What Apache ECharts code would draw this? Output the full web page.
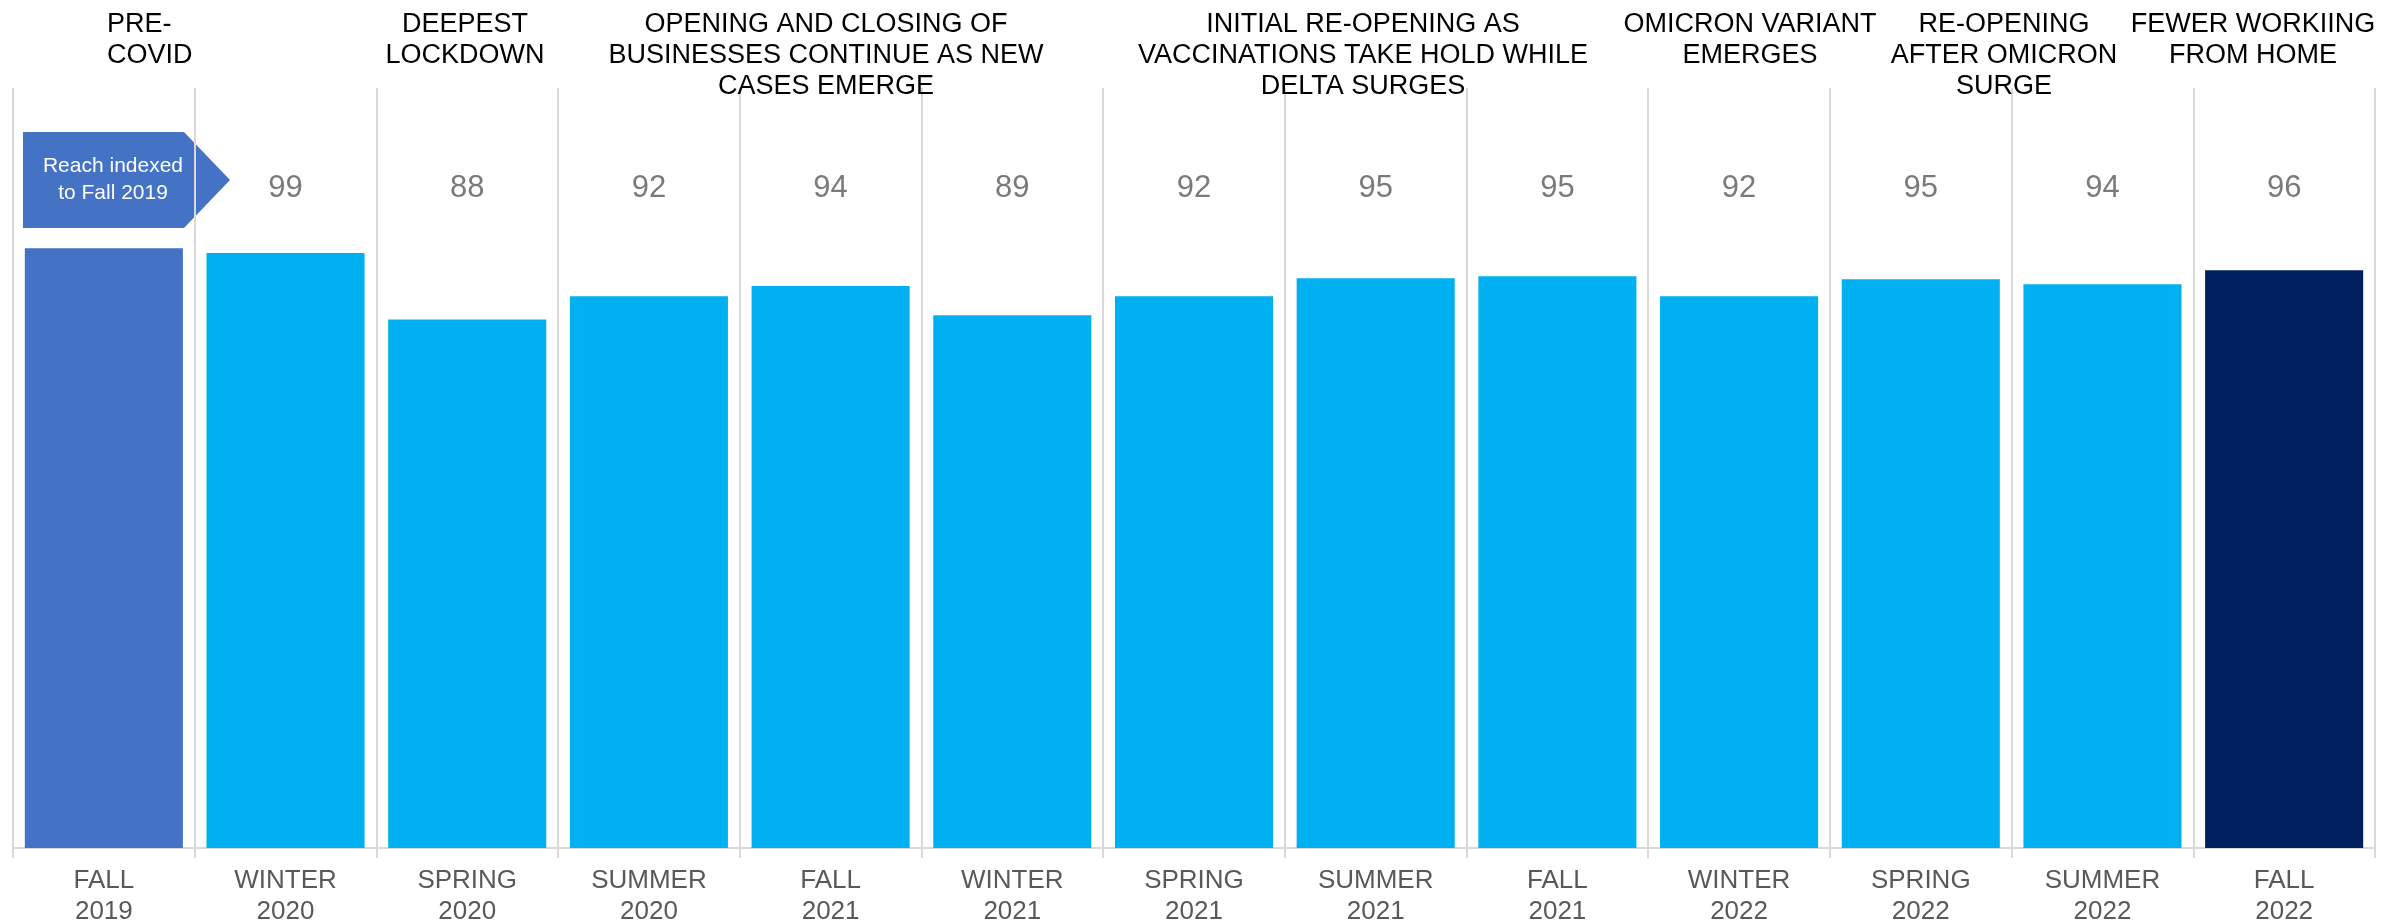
<!DOCTYPE html>
<html>
<head>
<meta charset="utf-8">
<script src="https://cdn.jsdelivr.net/npm/echarts@6/dist/echarts.min.js"></script>
<style>
  html, body { margin: 0; padding: 0; background: #fff; }
  #chart { width: 2397px; height: 924px; }
</style>
</head>
<body>
<div id="chart"></div>
<script>
// seasons on the x axis
var seasons = ['FALL\n2019', 'WINTER\n2020', 'SPRING\n2020', 'SUMMER\n2020', 'FALL\n2021', 'WINTER\n2021',
  'SPRING\n2021', 'SUMMER\n2021', 'FALL\n2021', 'WINTER\n2022', 'SPRING\n2022', 'SUMMER\n2022', 'FALL\n2022'];
// reach indexed to fall 2019 (bar heights)
var reach = [100, 99.2, 88.1, 92, 93.7, 88.8, 92, 95, 95.3, 92, 94.8, 94, 96.3];
// printed numbers above the bars (first column has the arrow callout instead)
var reachLabels = ['', '99', '88', '92', '94', '89', '92', '95', '95', '92', '95', '94', '96'];
// phase headings over the columns
var phases = [
  { text: 'PRE-\nCOVID', x: 107, align: 'left' },
  { text: 'DEEPEST\nLOCKDOWN', x: 465, align: 'center' },
  { text: 'OPENING AND CLOSING OF\nBUSINESSES CONTINUE AS NEW\nCASES EMERGE', x: 826, align: 'center' },
  { text: 'INITIAL RE-OPENING AS\nVACCINATIONS TAKE HOLD WHILE\nDELTA SURGES', x: 1363, align: 'center' },
  { text: 'OMICRON VARIANT\nEMERGES', x: 1750, align: 'center' },
  { text: 'RE-OPENING\nAFTER OMICRON\nSURGE', x: 2004, align: 'center' },
  { text: 'FEWER WORKIING\nFROM HOME', x: 2253, align: 'center' }
];

var FONT = '"Liberation Sans", Arial, sans-serif';
var LABEL_LEVEL = 109.9;

var barColors = reach.map(function (v, i) {
  if (i === 0) return '#4472C4';
  if (i === reach.length - 1) return '#002060';
  return '#00B0F0';
});

var chart = echarts.init(document.getElementById('chart'));

var option = {
  backgroundColor: '#FFFFFF',
  animation: false,
  title: phases.map(function (p) {
    return {
      text: p.text,
      left: p.x,
      top: 9,
      padding: 0,
      textAlign: p.align,
      textStyle: {
        fontFamily: FONT,
        fontSize: 27,
        fontWeight: 'normal',
        lineHeight: 31,
        color: '#000000'
      }
    };
  }),
  grid: {
    left: 13,
    right: 22,
    top: 88,
    bottom: 76,
    outerBoundsMode: 'none'
  },
  xAxis: {
    type: 'category',
    data: seasons,
    axisLine: { lineStyle: { color: '#D9D9D9', width: 2 } },
    axisTick: { show: true, length: 10, lineStyle: { color: '#D9D9D9', width: 2 } },
    splitLine: { show: true, lineStyle: { color: '#D9D9D9', width: 2 } },
    axisLabel: {
      margin: 17,
      fontFamily: FONT,
      fontSize: 26,
      lineHeight: 31,
      color: '#595959'
    }
  },
  yAxis: {
    type: 'value',
    min: 0,
    max: 126.7,
    show: false,
    splitLine: { show: false }
  },
  series: [
    {
      type: 'bar',
      barCategoryGap: '13%',
      data: reach.map(function (v, i) {
        return { value: v, itemStyle: { color: barColors[i] } };
      })
    },
    {
      type: 'scatter',
      symbolSize: 0,
      silent: true,
      data: reachLabels.map(function (t, i) {
        return t === '' ? null : [i, LABEL_LEVEL];
      }).filter(function (d) { return d; }),
      label: {
        show: true,
        position: 'inside',
        formatter: function (p) { return reachLabels[p.value[0]]; },
        fontFamily: FONT,
        fontSize: 31,
        color: '#595959'
      }
    }
  ],
  graphic: [
    {
      type: 'polygon',
      shape: { points: [[23, 132], [184, 132], [230, 180], [184, 228], [23, 228]] },
      style: { fill: '#4472C4' }
    },
    {
      type: 'text',
      x: 113,
      y: 180,
      style: {
        text: 'Reach indexed\nto Fall 2019',
        fill: '#FFFFFF',
        font: '21px ' + FONT,
        lineHeight: 27,
        align: 'center',
        verticalAlign: 'middle'
      }
    }
  ]
};

chart.setOption(option);
</script>
</body>
</html>
